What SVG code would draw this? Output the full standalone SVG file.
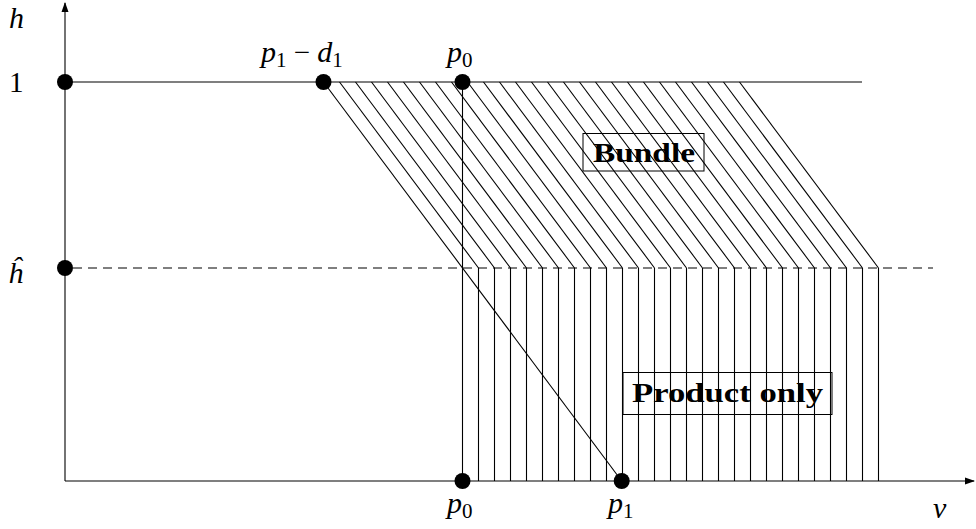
<svg xmlns="http://www.w3.org/2000/svg" width="976" height="529" viewBox="0 0 976 529">
<style>
.ln{stroke:#000;stroke-width:1.1;fill:none}
.m{font-family:"Liberation Serif","DejaVu Serif",serif;font-style:italic;font-size:30px;fill:#000}
.r{font-family:"Liberation Serif","DejaVu Serif",serif;font-size:29px;fill:#000}
.s{font-family:"Liberation Serif","DejaVu Serif",serif;font-style:normal;font-size:21px}
.b{font-family:"Liberation Serif","DejaVu Serif",serif;font-weight:bold;font-size:27px;fill:#000}
.box{fill:none;stroke:#000;stroke-width:1}
.dot{fill:#000}
</style>
<defs>
<marker id="ah" viewBox="0 0 10 10" refX="9" refY="5" markerWidth="10" markerHeight="10" markerUnits="userSpaceOnUse" orient="auto">
<path d="M0,1.5 L10,5 L0,8.5 Z" fill="#000"/>
</marker>
</defs>
<g id="connectors">
<line class="ln" x1="65" y1="481" x2="65" y2="3" marker-end="url(#ah)"/>
<line class="ln" x1="65" y1="481" x2="974" y2="481" marker-end="url(#ah)"/>
<line class="ln" x1="65" y1="82" x2="862" y2="82"/>
<line class="ln" x1="73" y1="268" x2="933" y2="268" stroke-dasharray="9 6"/>
<line class="ln" x1="462.5" y1="82" x2="462.5" y2="481"/>
<line class="ln" x1="323.5" y1="82" x2="621.7" y2="481"/>
<g id="bundle-hatch">
<line class="ln" x1="339.5" y1="82" x2="478.5" y2="268"/>
<line class="ln" x1="355.5" y1="82" x2="494.5" y2="268"/>
<line class="ln" x1="371.5" y1="82" x2="510.5" y2="268"/>
<line class="ln" x1="387.5" y1="82" x2="526.5" y2="268"/>
<line class="ln" x1="403.5" y1="82" x2="542.5" y2="268"/>
<line class="ln" x1="419.5" y1="82" x2="558.5" y2="268"/>
<line class="ln" x1="435.5" y1="82" x2="574.5" y2="268"/>
<line class="ln" x1="451.5" y1="82" x2="590.5" y2="268"/>
<line class="ln" x1="467.5" y1="82" x2="606.5" y2="268"/>
<line class="ln" x1="483.5" y1="82" x2="622.5" y2="268"/>
<line class="ln" x1="499.5" y1="82" x2="638.5" y2="268"/>
<line class="ln" x1="515.5" y1="82" x2="654.5" y2="268"/>
<line class="ln" x1="531.5" y1="82" x2="670.5" y2="268"/>
<line class="ln" x1="547.5" y1="82" x2="686.5" y2="268"/>
<line class="ln" x1="563.5" y1="82" x2="702.5" y2="268"/>
<line class="ln" x1="579.5" y1="82" x2="718.5" y2="268"/>
<line class="ln" x1="595.5" y1="82" x2="734.5" y2="268"/>
<line class="ln" x1="611.5" y1="82" x2="750.5" y2="268"/>
<line class="ln" x1="627.5" y1="82" x2="766.5" y2="268"/>
<line class="ln" x1="643.5" y1="82" x2="782.5" y2="268"/>
<line class="ln" x1="659.5" y1="82" x2="798.5" y2="268"/>
<line class="ln" x1="675.5" y1="82" x2="814.5" y2="268"/>
<line class="ln" x1="691.5" y1="82" x2="830.5" y2="268"/>
<line class="ln" x1="707.5" y1="82" x2="846.5" y2="268"/>
<line class="ln" x1="723.5" y1="82" x2="862.5" y2="268"/>
<line class="ln" x1="739.5" y1="82" x2="878.5" y2="268"/>
</g>
<g id="product-hatch">
<line class="ln" x1="478.5" y1="268" x2="478.5" y2="481"/>
<line class="ln" x1="494.5" y1="268" x2="494.5" y2="481"/>
<line class="ln" x1="510.5" y1="268" x2="510.5" y2="481"/>
<line class="ln" x1="526.5" y1="268" x2="526.5" y2="481"/>
<line class="ln" x1="542.5" y1="268" x2="542.5" y2="481"/>
<line class="ln" x1="558.5" y1="268" x2="558.5" y2="481"/>
<line class="ln" x1="574.5" y1="268" x2="574.5" y2="481"/>
<line class="ln" x1="590.5" y1="268" x2="590.5" y2="481"/>
<line class="ln" x1="606.5" y1="268" x2="606.5" y2="481"/>
<line class="ln" x1="622.5" y1="268" x2="622.5" y2="481"/>
<line class="ln" x1="638.5" y1="268" x2="638.5" y2="481"/>
<line class="ln" x1="654.5" y1="268" x2="654.5" y2="481"/>
<line class="ln" x1="670.5" y1="268" x2="670.5" y2="481"/>
<line class="ln" x1="686.5" y1="268" x2="686.5" y2="481"/>
<line class="ln" x1="702.5" y1="268" x2="702.5" y2="481"/>
<line class="ln" x1="718.5" y1="268" x2="718.5" y2="481"/>
<line class="ln" x1="734.5" y1="268" x2="734.5" y2="481"/>
<line class="ln" x1="750.5" y1="268" x2="750.5" y2="481"/>
<line class="ln" x1="766.5" y1="268" x2="766.5" y2="481"/>
<line class="ln" x1="782.5" y1="268" x2="782.5" y2="481"/>
<line class="ln" x1="798.5" y1="268" x2="798.5" y2="481"/>
<line class="ln" x1="814.5" y1="268" x2="814.5" y2="481"/>
<line class="ln" x1="830.5" y1="268" x2="830.5" y2="481"/>
<line class="ln" x1="846.5" y1="268" x2="846.5" y2="481"/>
<line class="ln" x1="862.5" y1="268" x2="862.5" y2="481"/>
<line class="ln" x1="878.5" y1="268" x2="878.5" y2="481"/>
</g>
</g>
<g id="pt-1"><circle class="dot" cx="65" cy="82" r="8"/><text class="r" x="9" y="92">1</text></g>
<g id="pt-hhat"><circle class="dot" cx="65" cy="268" r="8"/><text class="m" x="8" y="283">ĥ</text></g>
<g id="pt-p1d1"><circle class="dot" cx="323.5" cy="82" r="8"/><text class="m" x="261" y="62">p<tspan class="s" dy="5">1</tspan><tspan class="r" dy="-5" font-style="normal"> − </tspan>d<tspan class="s" dy="5">1</tspan></text></g>
<g id="pt-p0-top"><circle class="dot" cx="462.5" cy="82" r="8"/><text class="m" x="447" y="62">p<tspan class="s" dy="5">0</tspan></text></g>
<g id="pt-p0-bot"><circle class="dot" cx="462.5" cy="481" r="8"/><text class="m" x="447" y="513">p<tspan class="s" dy="5">0</tspan></text></g>
<g id="pt-p1"><circle class="dot" cx="621.7" cy="481" r="8"/><text class="m" x="608" y="513">p<tspan class="s" dy="5">1</tspan></text></g>
<g id="axis-labels"><text class="m" x="9" y="28">h</text><text class="m" x="933" y="518">v</text></g>
<g id="bundle"><rect class="box" x="583" y="133.5" width="121" height="37.5"/><text class="b" x="593" y="162" textLength="102" lengthAdjust="spacingAndGlyphs">Bundle</text></g>
<g id="product-only"><rect class="box" x="623" y="372.5" width="209" height="42"/><text class="b" x="632" y="402" textLength="191" lengthAdjust="spacingAndGlyphs">Product only</text></g>
</svg>
